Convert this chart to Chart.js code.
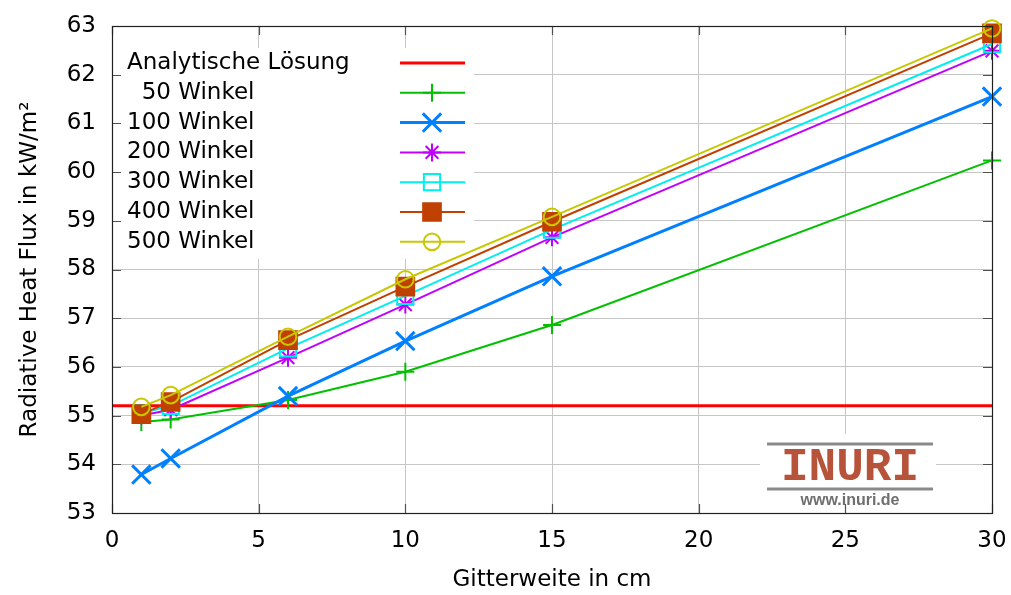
<!DOCTYPE html>
<html>
<head>
<meta charset="utf-8">
<script src="https://cdn.jsdelivr.net/npm/chart.js@4.4.1/dist/chart.umd.min.js"></script>
<style>
  html, body { margin: 0; padding: 0; background: #ffffff; }
  #chart { display: block; }
</style>
</head>
<body>
<canvas id="chart" width="1011" height="595"></canvas>
<script>
// Gitterweite in cm (x values)
const gitterweite = [1, 2, 6, 10, 15, 30];

// Analytic solution (horizontal line)
const analytisch = 55.2;

// Radiative heat flux per number of angles
const winkel50 = [54.87, 54.92, 55.32, 55.90, 56.86, 60.24];
const winkel100 = [53.79, 54.12, 55.40, 56.53, 57.86, 61.55];
const winkel200 = [55.00, 55.12, 56.19, 57.28, 58.66, 62.49];
const winkel300 = [55.05, 55.20, 56.38, 57.46, 58.82, 62.63];
const winkel400 = [55.03, 55.28, 56.55, 57.65, 58.98, 62.85];
const winkel500 = [55.18, 55.42, 56.62, 57.80, 59.08, 62.95];

const seriesLabels = [
  "Analytische Lösung", "\u200750 Winkel", "100 Winkel", "200 Winkel",
  "300 Winkel", "400 Winkel", "500 Winkel"
];

const xRange = [0, 30];
const yRange = [53, 63];

const FONT = "'DejaVu Sans', sans-serif";

// turn x/y arrays into points
const toPoints = (ys) => gitterweite.map((x, i) => ({ x: x, y: ys[i] }));

const makeSeries = (label, values, color, style, radius, lineW, pointW, fill, order) => ({
  label: label,
  data: toPoints(values),
  borderColor: color,
  borderWidth: lineW,
  pointStyle: style,
  pointRadius: radius,
  pointHoverRadius: radius,
  pointBorderWidth: pointW,
  pointBorderColor: color,
  pointBackgroundColor: fill,
  tension: 0,
  clip: false,
  order: order,
});

const datasets = [
  {
    label: seriesLabels[0],
    data: [{ x: xRange[0], y: analytisch }, { x: xRange[1], y: analytisch }],
    borderColor: "#ff0000",
    borderWidth: 3,
    pointRadius: 0,
    pointStyle: false,
    clip: false,
    order: 7,
  },
  makeSeries(seriesLabels[1], winkel50, "#00c000", "cross", 9, 2, 2, "#00c000", 6),
  makeSeries(seriesLabels[2], winkel100, "#0080ff", "crossRot", 13, 3, 3, "#0080ff", 5),
  makeSeries(seriesLabels[3], winkel200, "#c000ff", "star", 9, 2, 2, "#c000ff", 4),
  makeSeries(seriesLabels[4], winkel300, "#00eeee", "rect", 11.5, 2, 2, "rgba(0,0,0,0)", 3),
  makeSeries(seriesLabels[5], winkel400, "#c04000", "rect", 12.5, 2, 2, "#c04000", 2),
  makeSeries(seriesLabels[6], winkel500, "#c8c800", "circle", 8.3, 2, 2, "rgba(0,0,0,0)", 1),
];

// white legend box + logo, drawn over grid but under the data
const backdropPlugin = {
  id: "backdrop",
  beforeDatasetsDraw(chart) {
    const ctx = chart.ctx;
    const a = chart.chartArea;
    ctx.save();

    // legend box
    ctx.fillStyle = "#ffffff";
    ctx.fillRect(a.left + 1, a.top + 22, 361, 211);
    ctx.font = "23px " + FONT;
    ctx.textBaseline = "middle";
    ctx.textAlign = "left";
    chart.data.datasets.forEach((ds, i) => {
      const y = a.top + 37 + i * 29.8;
      ctx.fillStyle = "#000000";
      ctx.fillText(ds.label, a.left + 15, y);
      ctx.strokeStyle = ds.borderColor;
      ctx.lineWidth = ds.borderWidth;
      ctx.beginPath();
      ctx.moveTo(a.left + 288, y);
      ctx.lineTo(a.left + 353, y);
      ctx.stroke();
      if (ds.pointStyle && ds.pointRadius > 0) {
        ctx.fillStyle = ds.pointBackgroundColor;
        ctx.strokeStyle = ds.pointBorderColor;
        ctx.lineWidth = ds.pointBorderWidth;
        Chart.helpers.drawPoint(ctx, {
          pointStyle: ds.pointStyle,
          radius: ds.pointRadius,
          borderWidth: ds.pointBorderWidth,
          rotation: 0,
        }, a.left + 320, y);
      }
    });

    // logo
    const lx = a.right - 143;
    const ly = a.bottom - 48;
    ctx.fillStyle = "#ffffff";
    ctx.fillRect(lx - 89, ly - 31, 176, 70);
    ctx.strokeStyle = "#8a8a8a";
    ctx.lineWidth = 3;
    ctx.beginPath();
    ctx.moveTo(lx - 82, ly - 21);
    ctx.lineTo(lx + 84, ly - 21);
    ctx.moveTo(lx - 82, ly + 24);
    ctx.lineTo(lx + 84, ly + 24);
    ctx.stroke();
    ctx.textAlign = "center";
    ctx.fillStyle = "#b8533b";
    ctx.font = "bold 46px 'Liberation Mono', 'Courier New', monospace";
    ctx.fillText("INURI", lx + 1, ly + 3);
    ctx.fillStyle = "#6f6f6f";
    ctx.font = "bold 16px 'Liberation Sans', Arial, sans-serif";
    ctx.fillText("www.inuri.de", lx + 1, ly + 36);
    ctx.restore();
  },
};

// border on all four sides with inward ticks (mirrored)
const framePlugin = {
  id: "frame",
  afterDatasetsDraw(chart) {
    const ctx = chart.ctx;
    const a = chart.chartArea;
    const xs = chart.scales.x;
    const ys = chart.scales.y;
    const tick = 9;
    ctx.save();
    ctx.strokeStyle = "#505050";
    ctx.lineWidth = 1.2;
    ctx.beginPath();
    xs.ticks.forEach((t) => {
      const px = Math.round(xs.getPixelForValue(t.value)) + 0.5;
      ctx.moveTo(px, a.bottom);
      ctx.lineTo(px, a.bottom - tick);
      ctx.moveTo(px, a.top);
      ctx.lineTo(px, a.top + tick);
    });
    ys.ticks.forEach((t) => {
      const py = Math.round(ys.getPixelForValue(t.value)) + 0.5;
      ctx.moveTo(a.left, py);
      ctx.lineTo(a.left + tick, py);
      ctx.moveTo(a.right, py);
      ctx.lineTo(a.right - tick, py);
    });
    ctx.stroke();
    ctx.strokeStyle = "#202020";
    ctx.strokeRect(a.left + 0.5, a.top + 0.5, a.right - a.left, a.bottom - a.top);
    ctx.restore();
  },
};

const chart = new Chart(document.getElementById("chart"), {
  type: "line",
  data: { datasets: datasets },
  plugins: [backdropPlugin, framePlugin],
  options: {
    responsive: false,
    animation: false,
    layout: { padding: { top: 26, right: 19, left: 0, bottom: 0 } },
    plugins: {
      legend: { display: false },
      tooltip: { enabled: false },
    },
    scales: {
      x: {
        type: "linear",
        min: xRange[0],
        max: xRange[1],
        ticks: {
          stepSize: 5,
          color: "#000000",
          padding: 14,
          maxRotation: 0,
          font: { family: FONT, size: 23 },
        },
        grid: { color: "#c6c6c6", drawTicks: false },
        border: { display: false },
        title: {
          display: true,
          text: "Gitterweite in cm",
          color: "#000000",
          padding: { top: 0, bottom: 1 },
          font: { family: FONT, size: 23 },
        },
        afterFit: (scale) => {
          scale.height = 82;
          scale.paddingLeft = 0;
          scale.paddingRight = 0;
        },
      },
      y: {
        min: yRange[0],
        max: yRange[1],
        ticks: {
          stepSize: 1,
          color: "#000000",
          padding: 16,
          font: { family: FONT, size: 23 },
        },
        grid: { color: "#c6c6c6", drawTicks: false },
        border: { display: false },
        title: {
          display: true,
          text: "Radiative Heat Flux in kW/m²",
          color: "#000000",
          padding: { top: 16, bottom: 0 },
          font: { family: FONT, size: 23 },
        },
        afterFit: (scale) => {
          scale.width = 112;
          scale.paddingTop = 0;
          scale.paddingBottom = 0;
        },
      },
    },
  },
});
</script>
</body>
</html>
